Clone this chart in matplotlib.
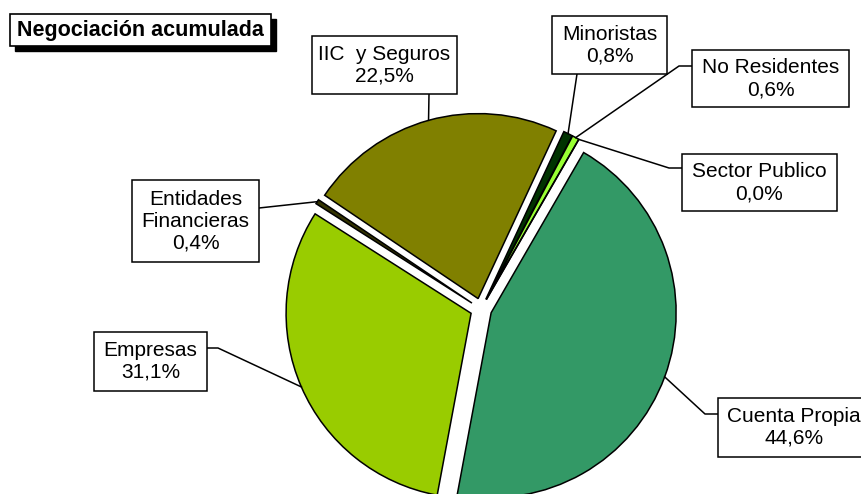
import numpy as np
import matplotlib
matplotlib.use("Agg")
import matplotlib.pyplot as plt
from matplotlib.patches import Rectangle

plt.rcParams['font.family'] = ['Liberation Sans', 'DejaVu Sans']

# Datos: negociacion acumulada por tipo de inversor (%)
categorias = ['Cuenta Propia', 'Empresas', 'Entidades\nFinancieras', 'IIC  y Seguros',
              'Minoristas', 'No Residentes', 'Sector Publico']
porcentajes = [44.6, 31.1, 0.4, 22.5, 0.8, 0.6, 0.0]
colores = ['#339966', '#99CC00', '#333300', '#808000', '#003300', '#99FF33', '#FFFFFF']

# Cajas de etiquetas en pixeles (x0, y0, x1, y1) desde arriba-izquierda
cajas = [(718, 398, 872, 457), (94, 332, 207, 391), (132, 180, 259, 262),
         (312, 36, 457, 94), (552, 16, 667, 74), (692, 50, 849, 107),
         (682, 154, 837, 211)]
# puntos de salida de la linea guia (x, y) y codo opcional
salidas = [[(718, 414), (705, 414)], [(207, 348), (218, 348)], [(259, 208)],
           [(429, 94)], [(577, 74)], [(692, 66), (679, 66)], [(682, 168), (669, 168)]]

W, H = 862, 494
fig = plt.figure(figsize=(W / 100, H / 100), dpi=100)
ax = fig.add_axes([0, 0, 1, 1])


def py(y):
    # pixel vertical -> coordenada de datos
    return H - y


radio = 185
centro = (481, py(309))
# explode en unidades de datos (pixeles)
wedges, _ = ax.pie(porcentajes, colors=colores, startangle=60, counterclock=False,
                   explode=[10.8] * len(porcentajes), radius=radio, center=centro,
                   wedgeprops=dict(edgecolor='black', linewidth=1.1))

for i, w in enumerate(wedges):
    # punto sobre el arco en el angulo medio de cada sector
    ang = np.deg2rad((w.theta1 + w.theta2) / 2)
    px = w.center[0] + w.r * np.cos(ang)
    pyy = w.center[1] + w.r * np.sin(ang)
    pts = [(x, py(y)) for x, y in salidas[i]] + [(px, pyy)]
    xs, ys = zip(*pts)
    ax.plot(xs, ys, color='black', lw=1.1, zorder=3)

    x0, y0, x1, y1 = cajas[i]
    ax.add_patch(Rectangle((x0, py(y1)), x1 - x0, y1 - y0, facecolor='white',
                           edgecolor='black', lw=1.1, zorder=4))
    txt = '%s\n%s%%' % (categorias[i], ('%.1f' % porcentajes[i]).replace('.', ','))
    cx = (x0 + x1) / 2 if i != 0 else 794
    ax.text(cx, py((y0 + y1) / 2), txt, ha='center', va='center', fontsize=15,
            linespacing=1.2, zorder=5)

# titulo con sombra
ax.add_patch(Rectangle((15, py(51)), 261, 32, facecolor='black', edgecolor='black', zorder=4))
ax.add_patch(Rectangle((10, py(46)), 261, 32, facecolor='white', edgecolor='black',
                       lw=1.2, zorder=5))
ax.text(140, py(30.5), 'Negociación acumulada', ha='center', va='center',
        fontsize=15.5, fontweight='bold', zorder=6)

ax.set_xlim(0, W)
ax.set_ylim(0, H)
ax.set_aspect('equal')
ax.axis('off')

plt.savefig('out.png', dpi=100)
